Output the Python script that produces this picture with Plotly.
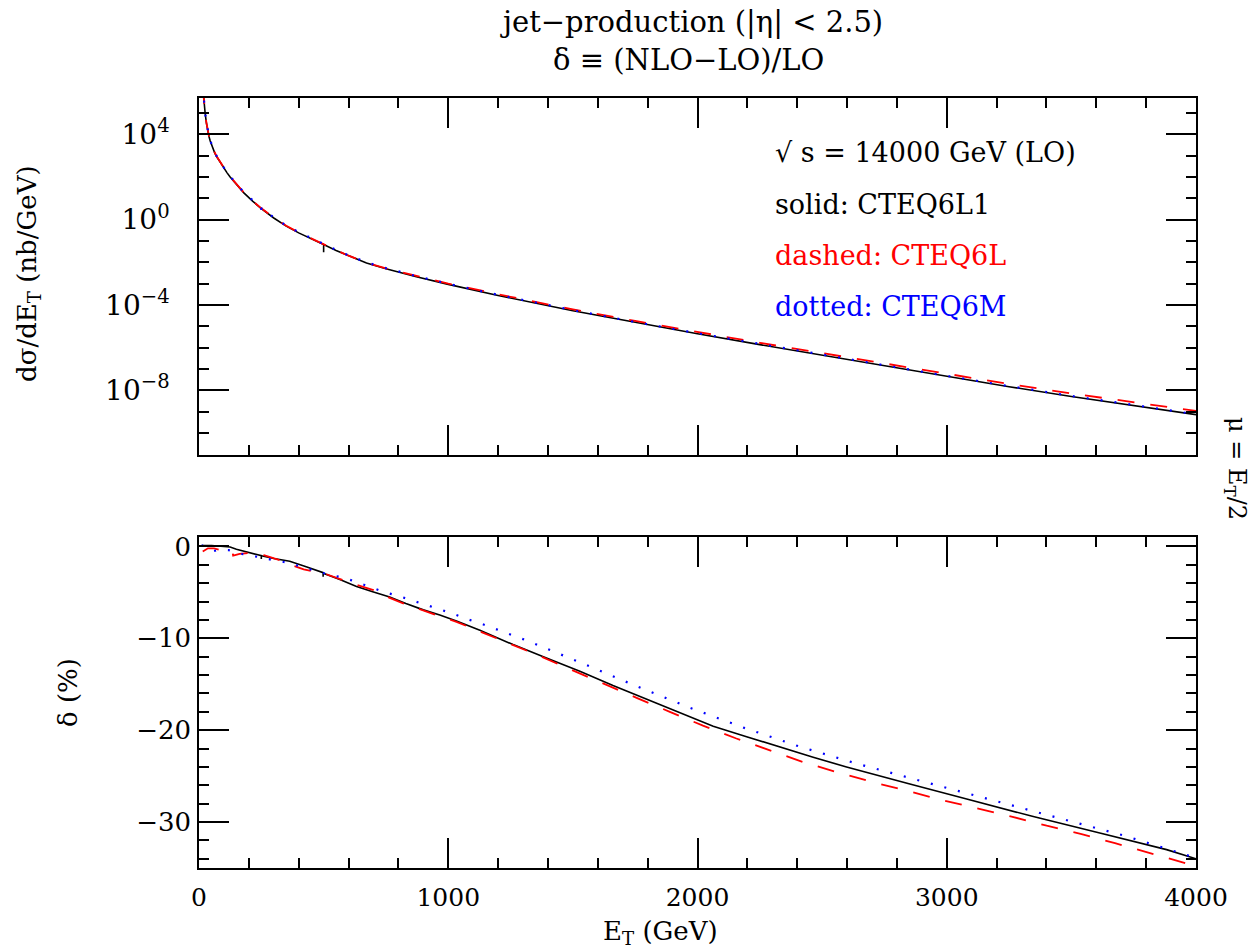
import plotly.graph_objects as go

# ---------------- data ----------------
# upper panel: d(sigma)/dE_T in nb/GeV
et_top_l1 = [15, 20, 25, 30, 35, 40, 45, 50, 57, 63, 70, 80, 90, 100, 112, 125, 150, 180,
             215, 250, 300, 350, 400, 450, 500, 500, 500, 550, 600, 672, 750, 872, 1000,
             1200, 1500, 1750, 2000, 2250, 2500, 2750, 3000, 3250, 3500, 3750, 4000]
xs_cteq6l1 = [1.6e6, 2.8e5, 8.9e4, 3.2e4, 1.4e4, 7.9e3, 4.8e3, 3.2e3, 2.0e3, 1.35e3, 9.3e2,
              5.9e2, 3.8e2, 2.5e2, 1.6e2, 1.0e2, 44, 18, 7.4, 3.3, 1.2, 0.5, 0.24, 0.126,
              6.8e-2, 3.0e-2, 6.8e-2, 3.6e-2, 2.0e-2, 9.3e-3, 5.0e-3, 2.1e-3, 9.3e-4,
              2.8e-4, 5.4e-5, 1.5e-5, 4.5e-6, 1.4e-6, 4.5e-7, 1.4e-7, 4.5e-8, 1.5e-8,
              5.2e-9, 2.0e-9, 7.4e-10]

et_top_l = [15, 20, 25, 30, 35, 40, 45, 50, 57, 63, 70, 80, 90, 100, 112, 125, 150, 180,
            215, 250, 300, 350, 400, 450, 500, 550, 600, 672, 750, 872, 1000, 1200, 1500,
            1750, 2000, 2250, 2500, 2750, 3000, 3250, 3500, 3750, 4000]
xs_cteq6l = [1.65e6, 2.9e5, 9.2e4, 3.3e4, 1.45e4, 8.2e3, 5.0e3, 3.3e3, 2.05e3, 1.4e3,
             9.6e2, 6.1e2, 3.9e2, 2.6e2, 1.65e2, 1.03e2, 45, 18.5, 7.6, 3.4, 1.24, 0.52,
             0.25, 0.13, 7.0e-2, 3.7e-2, 2.05e-2, 9.6e-3, 5.2e-3, 2.3e-3, 1.02e-3, 3.2e-4,
             6.2e-5, 1.8e-5, 5.4e-6, 1.7e-6, 5.6e-7, 1.8e-7, 5.8e-8, 2.0e-8, 7.2e-9,
             2.9e-9, 1.1e-9]

et_top_m = [15, 20, 25, 30, 35, 40, 45, 50, 57, 63, 70, 80, 90, 100, 112, 125, 150, 180,
            215, 250, 250, 250, 300, 350, 400, 450, 500, 550, 600, 672, 750, 872, 1000,
            1200, 1500, 1750, 2000, 2250, 2500, 2750, 3000, 3250, 3500, 3750, 4000]
xs_cteq6m = [1.7e6, 3.0e5, 9.5e4, 3.4e4, 1.5e4, 8.4e3, 5.1e3, 3.4e3, 2.1e3, 1.45e3, 1.0e3,
             6.3e2, 4.1e2, 2.7e2, 1.7e2, 1.07e2, 47, 19.3, 7.9, 3.5, 1.5, 3.5, 1.28, 0.53,
             0.26, 0.135, 7.3e-2, 3.85e-2, 2.15e-2, 1.0e-2, 5.4e-3, 2.25e-3, 9.9e-4,
             3.0e-4, 5.8e-5, 1.6e-5, 4.8e-6, 1.5e-6, 4.8e-7, 1.5e-7, 4.8e-8, 1.6e-8,
             5.5e-9, 2.1e-9, 7.6e-10]

# lower panel: delta = (NLO-LO)/LO in %
et_l1 = [10, 50, 100, 125, 150, 190, 250, 250, 250, 300, 364, 430, 498, 498, 498, 565, 632,
         700, 765, 830, 900, 966, 1033, 1127, 1260, 1394, 1528, 1661, 1795, 1929, 2063,
         2197, 2330, 2464, 2598, 2731, 2852, 3080, 3347, 3614, 3882, 4000]
delta_l1 = [0.1, 0.1, 0.0, -0.05, -0.3, -0.6, -1.0, -1.35, -1.0, -1.3, -1.6, -2.2, -2.85,
            -3.3, -2.9, -3.6, -4.35, -4.95, -5.5, -6.2, -6.9, -7.45, -8.1, -9.13, -10.68,
            -12.13, -13.58, -15.14, -16.59, -18.1, -19.57, -20.7, -21.85, -22.95, -24.0,
            -25.0, -25.85, -27.5, -29.4, -31.2, -33.0, -34.0]

et_l = [15, 36, 60, 80, 100, 120, 134, 137, 163, 200, 227, 260, 314, 370, 420, 498, 602,
        700, 765, 830, 899, 966, 1033, 1227, 1361, 1492, 1624, 1758, 1889, 2022, 2156,
        2290, 2427, 2564, 2702, 2828, 2980, 3120, 3260, 3401, 3541, 3675, 3815, 4000]
delta_l = [-0.55, -0.2, -0.2, -0.35, -0.5, -0.55, -0.55, -1.0, -0.8, -0.7, -0.7, -0.95,
           -1.4, -2.0, -2.5, -2.9, -3.9, -4.75, -5.6, -6.3, -7.0, -7.6, -8.2, -10.33,
           -11.85, -13.4, -14.9, -16.5, -18.0, -19.5, -20.9, -22.2, -23.5, -24.6, -25.65,
           -26.5, -27.6, -28.5, -29.4, -30.4, -31.3, -32.3, -33.4, -34.8]

et_m = [10, 40, 60, 80, 120, 177, 250, 300, 364, 420, 527, 581, 635, 688, 742, 802, 856,
        909, 969, 1023, 1076, 1147, 1311, 1528, 1746, 1964, 2183, 2408, 2634, 2805, 2866,
        3147, 3430, 3715, 4000]
delta_m = [0.15, -0.3, -0.5, -0.35, -0.4, -0.85, -1.2, -1.5, -1.8, -2.3, -3.1, -3.4, -3.9,
           -4.45, -4.96, -5.4, -5.87, -6.3, -6.9, -7.35, -7.9, -8.55, -10.2, -12.6, -15.1,
           -17.5, -19.7, -21.77, -23.6, -24.9, -25.3, -27.35, -29.4, -31.5, -33.9]

x_ticks = [0, 1000, 2000, 3000, 4000]
x_tick_text = ["0", "1000", "2000", "3000", "4000"]
y_top_ticks = [1e-8, 1e-4, 1, 1e4]
y_top_text = ["10<sup>−8</sup>", "10<sup>−4</sup>", "10<sup>0</sup>", "10<sup>4</sup>"]
y_top_minor = [10.0 ** k for k in range(-11, 6)]
y_bot_ticks = [0, -10, -20, -30]
y_bot_text = ["0", "−10", "−20", "−30"]

# ---------------- geometry ----------------
W, H = 1253, 948
ML, MR, MT, MB = 199, 57, 98, 80
PW, PH = W - ML - MR, H - MT - MB


def px_x(x):
    return (x - ML) / PW


def px_y(y):
    return (H - MB - y) / PH


FONT = "DejaVu Serif"
BLACK, RED, BLUE = "#000000", "#ff0000", "#0000ff"
black_line = dict(color=BLACK, width=1.6)
red_line = dict(color=RED, width=1.8, dash="17px,16px")
blue_line = dict(color=BLUE, width=2.2, dash="2px,12px")

fig = go.Figure()
# solid curve first so the dashed and dotted ones sit on top of it
fig.add_trace(go.Scatter(x=et_top_l1, y=xs_cteq6l1, mode="lines", line=black_line,
                         xaxis="x", yaxis="y", name="CTEQ6L1"))
fig.add_trace(go.Scatter(x=et_top_l, y=xs_cteq6l, mode="lines", line=red_line,
                         xaxis="x", yaxis="y", name="CTEQ6L"))
fig.add_trace(go.Scatter(x=et_top_m, y=xs_cteq6m, mode="lines", line=blue_line,
                         xaxis="x", yaxis="y", name="CTEQ6M"))

fig.add_trace(go.Scatter(x=et_l1, y=delta_l1, mode="lines", line=black_line,
                         xaxis="x2", yaxis="y2", name="CTEQ6L1"))
fig.add_trace(go.Scatter(x=et_l, y=delta_l, mode="lines", line=red_line,
                         xaxis="x2", yaxis="y2", name="CTEQ6L"))
fig.add_trace(go.Scatter(x=et_m, y=delta_m, mode="lines", line=blue_line,
                         xaxis="x2", yaxis="y2", name="CTEQ6M"))

common = dict(showline=True, linecolor=BLACK, linewidth=1.5, mirror="ticks",
              ticks="inside", ticklen=30, tickwidth=1.5, tickcolor=BLACK,
              showgrid=False, zeroline=False)
minor_common = dict(ticks="inside", ticklen=10, tickwidth=1.5, tickcolor=BLACK,
                    showgrid=False)

top_dom = [px_y(454.5), 1.0]
bot_dom = [0.0, px_y(537.3)]

fig.update_layout(
    width=W, height=H,
    margin=dict(l=ML, r=MR, t=MT, b=MB),
    paper_bgcolor="white", plot_bgcolor="white",
    showlegend=False,
    font=dict(family=FONT, size=25, color=BLACK),
    xaxis=dict(domain=[0, 1], anchor="y", range=[0, 4000], tickvals=x_ticks,
               showticklabels=False,
               minor=dict(dtick=200, tick0=0, **minor_common),
               **common),
    yaxis=dict(domain=top_dom, anchor="x", type="log", range=[-11, 5.699],
               tickvals=y_top_ticks, ticktext=y_top_text, ticklabelstandoff=22,
               tickfont=dict(family=FONT, size=28, color=BLACK),
               minor=dict(tickvals=y_top_minor, **minor_common),
               **common),
    xaxis2=dict(domain=[0, 1], anchor="y2", range=[0, 4000], tickvals=x_ticks,
                ticktext=x_tick_text, ticklabelstandoff=6,
                tickfont=dict(family=FONT, size=25, color=BLACK),
                minor=dict(dtick=200, tick0=0, **minor_common),
                **common),
    yaxis2=dict(domain=bot_dom, anchor="x2", range=[-35, 1], tickvals=y_bot_ticks,
                ticktext=y_bot_text, ticklabelstandoff=1,
                tickfont=dict(family=FONT, size=26, color=BLACK),
                minor=dict(dtick=2, tick0=0, **minor_common),
                **common),
)

ann = []


def label(text, x, y, size=26, color=BLACK, angle=0, xanchor="center"):
    ann.append(dict(text=text, x=px_x(x), y=px_y(y), xref="paper", yref="paper",
                    showarrow=False, textangle=angle, xanchor=xanchor, yanchor="middle",
                    font=dict(family=FONT, size=size, color=color)))


# titles
label("jet−production (|η| &lt; 2.5)", 691, 22, size=29)
label("δ ≡ (NLO−LO)/LO", 688, 60, size=29)

# legend text
label("√ s = 14000 GeV (LO)", 773, 153, size=27, xanchor="left")
label("solid: CTEQ6L1", 773, 204, size=27, xanchor="left")
label("dashed: CTEQ6L", 773, 255, size=27, color=RED, xanchor="left")
label("dotted: CTEQ6M", 773, 306, size=27, color=BLUE, xanchor="left")

# axis titles
label("dσ/dE<sub>T</sub> (nb/GeV)", 28, 274, size=26, angle=-90)
label("δ (%)", 68, 693, size=26, angle=-90)
label("E<sub>T</sub> (GeV)", 660, 932, size=26)
label("μ = E<sub>T</sub>/2", 1236, 468, size=24, angle=90)

fig.update_layout(annotations=ann)

fig.write_html("out.html")
